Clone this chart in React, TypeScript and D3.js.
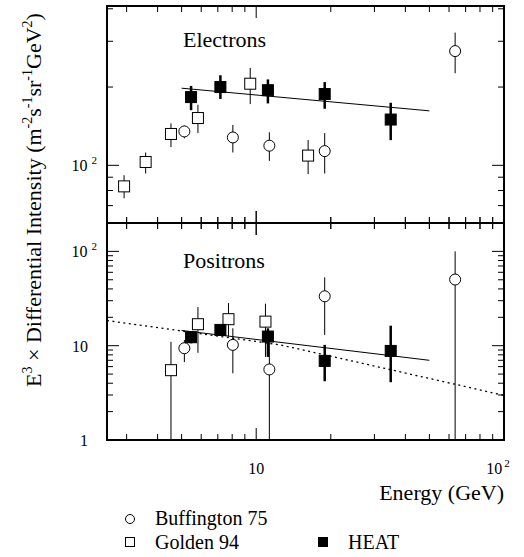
import React from "react";
import * as d3 from "d3";

// ---------- Data ----------
// Electrons panel
const eGoldenE = [2.93, 3.58, 4.53, 5.82, 9.46, 16.2];
const eGoldenI = [83, 103, 132, 152, 206, 109];
const eGoldenLo = [74.7, 93, 117.5, 133, 172, 92.5];
const eGoldenHi = [91.6, 112, 145, 171, 237, 125];

const eBuffE = [5.13, 8.05, 11.3, 18.9, 63.5];
const eBuffI = [135, 128, 119, 113.4, 275];
const eBuffLo = [127, 112, 104, 93, 226];
const eBuffHi = [142, 143, 134, 133, 324];

const eHeatE = [5.46, 7.17, 11.15, 18.9, 34.9];
const eHeatI = [183, 200, 194.5, 188, 150];
const eHeatLo = [163, 180, 173, 165, 125];
const eHeatHi = [202, 222, 214, 209, 174];

const eFitE = [5, 50];
const eFitI = [198, 162];

// Positrons panel
const pGoldenE = [4.53, 5.82, 7.73, 10.9];
const pGoldenI = [5.5, 16.9, 19.1, 18.0];
const pGoldenLo = [0.5, 8.4, 12.5, 7.6];
const pGoldenHi = [11.0, 25.7, 28.3, 27.9];

const pBuffE = [5.13, 8.05, 11.3, 18.9, 63.5];
const pBuffI = [9.4, 10.2, 5.6, 33.4, 50.3];
const pBuffLo = [6.7, 5.1, 0.5, 13, 0.5];
const pBuffHi = [11.5, 15.3, 12, 53, 100];

const pHeatE = [5.46, 7.17, 11.15, 18.9, 34.9];
const pHeatI = [12.3, 14.7, 12.5, 6.9, 8.8];
const pHeatLo = [10.6, 12.7, 7.6, 4.2, 4.1];
const pHeatHi = [14.1, 16.6, 15.3, 10.2, 16.3];

const pFitE = [5, 50];
const pFitI = [14.5, 7.0];

const pModelE = [2.5, 12.5, 21.9, 63.5, 100];
const pModelI = [18.5, 10.2, 7.33, 3.9, 2.97];

const legendLabels = ["Buffington 75", "Golden 94", "HEAT"];

// ---------- Layout ----------
const W = 524, H = 557;
const L = 107, R = 504, T = 6, M = 223, B = 440;
const FONT = "'Liberation Serif', 'Times New Roman', serif";

const x = d3.scaleLog().domain([2.5, 100]).range([L, R]);
const yTop = d3.scaleLog().domain([60, 410]).range([M, T]);
const yBot = d3.scaleLog().domain([1, 200]).range([B, M]);

const isMajor = (v: number) => Math.abs(Math.log10(v) - Math.round(Math.log10(v))) < 1e-6;

function Panel({ y, y0, y1, id }: { y: any; y0: number; y1: number; id: string }) {
  const xt = x.ticks();
  const yt = y.ticks().filter((v: number) => y(v) >= y0 - 0.5 && y(v) <= y1 + 0.5);
  const ticks: JSX.Element[] = [];
  xt.forEach((v: number, i: number) => {
    const px = x(v);
    const len = isMajor(v) ? 12 : 6;
    ticks.push(<line key={`xt${i}`} x1={px} x2={px} y1={y0 - (id === "bot" ? len : 0)} y2={y0 + len} />);
    ticks.push(<line key={`xb${i}`} x1={px} x2={px} y1={y1 - len} y2={y1 + (id === "top" ? len : 0)} />);
  });
  yt.forEach((v: number, i: number) => {
    const py = y(v);
    const len = isMajor(v) ? 12 : 6;
    ticks.push(<line key={`yl${i}`} x1={L} x2={L + len} y1={py} y2={py} />);
    ticks.push(<line key={`yr${i}`} x1={R - len} x2={R} y1={py} y2={py} />);
  });
  return <g stroke="#000" strokeWidth={1}>{ticks}</g>;
}

function ErrBars({ E, lo, hi, y, width, clip }: any) {
  return (
    <g stroke="#000" strokeWidth={width} clipPath={clip}>
      {E.map((e: number, i: number) => (
        <line key={i} x1={x(e)} x2={x(e)} y1={y(hi[i])} y2={y(lo[i])} />
      ))}
    </g>
  );
}

function Circles({ E, I, y, r }: any) {
  return (
    <g>
      {E.map((e: number, i: number) => (
        <circle key={i} cx={x(e)} cy={y(I[i])} r={r} fill="#fff" stroke="#000" strokeWidth={1} />
      ))}
    </g>
  );
}

function Squares({ E, I, y, s, filled }: any) {
  return (
    <g>
      {E.map((e: number, i: number) => (
        <rect key={i} x={x(e) - s / 2} y={y(I[i]) - s / 2} width={s} height={s}
          fill={filled ? "#000" : "#fff"} stroke="#000" strokeWidth={1} />
      ))}
    </g>
  );
}

export default function App() {
  const fitLine = d3.line<number>();
  const eFit = fitLine(eFitE.map((e, i) => [x(e), yTop(eFitI[i])]) as any);
  const pFit = fitLine(pFitE.map((e, i) => [x(e), yBot(pFitI[i])]) as any);
  const pModel = fitLine(pModelE.map((e, i) => [x(e), yBot(pModelI[i])]) as any);

  return (
    <svg width={W} height={H} style={{ position: "absolute", left: 0, top: 0, background: "#fff" }}
      fontFamily={FONT}>
      <defs>
        <clipPath id="cTop"><rect x={L} y={T} width={R - L} height={M - T} /></clipPath>
        <clipPath id="cBot"><rect x={L} y={M} width={R - L} height={B - M} /></clipPath>
      </defs>
      <rect x={0} y={0} width={W} height={H} fill="#fff" />

      {/* Electrons panel */}
      <path d={eFit as string} fill="none" stroke="#000" strokeWidth={1} />
      <ErrBars E={eGoldenE} lo={eGoldenLo} hi={eGoldenHi} y={yTop} width={1} clip="url(#cTop)" />
      <ErrBars E={eBuffE} lo={eBuffLo} hi={eBuffHi} y={yTop} width={1} clip="url(#cTop)" />
      <ErrBars E={eHeatE} lo={eHeatLo} hi={eHeatHi} y={yTop} width={2.5} clip="url(#cTop)" />
      <Squares E={eGoldenE} I={eGoldenI} y={yTop} s={11} filled={false} />
      <Circles E={eBuffE} I={eBuffI} y={yTop} r={5.5} />
      <Squares E={eHeatE} I={eHeatI} y={yTop} s={11} filled={true} />
      <text x={183} y={47} fontSize={22}>Electrons</text>

      {/* Positrons panel */}
      <g clipPath="url(#cBot)">
        <path d={pModel as string} fill="none" stroke="#000" strokeWidth={1.3} strokeDasharray="2,3.5" />
      </g>
      <path d={pFit as string} fill="none" stroke="#000" strokeWidth={1} />
      <ErrBars E={pGoldenE} lo={pGoldenLo} hi={pGoldenHi} y={yBot} width={1} clip="url(#cBot)" />
      <ErrBars E={pBuffE} lo={pBuffLo} hi={pBuffHi} y={yBot} width={1} clip="url(#cBot)" />
      <ErrBars E={pHeatE} lo={pHeatLo} hi={pHeatHi} y={yBot} width={2.5} clip="url(#cBot)" />
      <Squares E={pGoldenE} I={pGoldenI} y={yBot} s={11} filled={false} />
      <Circles E={pBuffE} I={pBuffI} y={yBot} r={5.5} />
      <Squares E={pHeatE} I={pHeatI} y={yBot} s={11} filled={true} />
      <text x={183} y={268} fontSize={22}>Positrons</text>

      {/* Frames and ticks */}
      <Panel y={yTop} y0={T} y1={M} id="top" />
      <Panel y={yBot} y0={M} y1={B} id="bot" />
      <rect x={L} y={T} width={R - L} height={B - T} fill="none" stroke="#000" strokeWidth={2} />
      <line x1={L} x2={R} y1={M} y2={M} stroke="#000" strokeWidth={2} />

      {/* Y tick labels */}
      <g fontSize={16} textAnchor="end">
        <text x={97} y={yTop(100) + 6}>10 <tspan fontSize={11} dy={-7}>2</tspan></text>
        <text x={97} y={yBot(100) + 6}>10 <tspan fontSize={11} dy={-7}>2</tspan></text>
        <text x={88} y={yBot(10) + 6}>10</text>
        <text x={88} y={yBot(1) + 6}>1</text>
      </g>
      {/* X tick labels */}
      <g fontSize={16}>
        <text x={x(10)} y={474} textAnchor="middle">10</text>
        <text x={x(100) - 6} y={474} textAnchor="middle">10<tspan fontSize={11} dy={-7} dx={2}>2</tspan></text>
      </g>
      <text x={R} y={500} fontSize={22} textAnchor="end">Energy (GeV)</text>

      {/* Y axis title */}
      <text transform={`translate(41, 200) rotate(-90)`} fontSize={22} textAnchor="middle">
        E<tspan fontSize={14} dy={-9}>3</tspan><tspan dy={9}> × Differential Intensity (m</tspan>
        <tspan fontSize={14} dy={-9}>-2</tspan><tspan dy={9}>s</tspan>
        <tspan fontSize={14} dy={-9}>-1</tspan><tspan dy={9}>sr</tspan>
        <tspan fontSize={14} dy={-9}>-1</tspan><tspan dy={9}>GeV</tspan>
        <tspan fontSize={14} dy={-9}>2</tspan><tspan dy={9}>)</tspan>
      </text>

      {/* Legend */}
      <g fontSize={20}>
        <circle cx={130} cy={519} r={4.5} fill="#fff" stroke="#000" strokeWidth={1} />
        <text x={155} y={525}>{legendLabels[0]}</text>
        <rect x={125.5} y={537.5} width={9} height={9} fill="#fff" stroke="#000" strokeWidth={1} />
        <text x={155} y={549}>{legendLabels[1]}</text>
        <rect x={318.5} y={537.5} width={9} height={9} fill="#000" stroke="#000" strokeWidth={1} />
        <text x={348} y={549}>{legendLabels[2]}</text>
      </g>
    </svg>
  );
}
